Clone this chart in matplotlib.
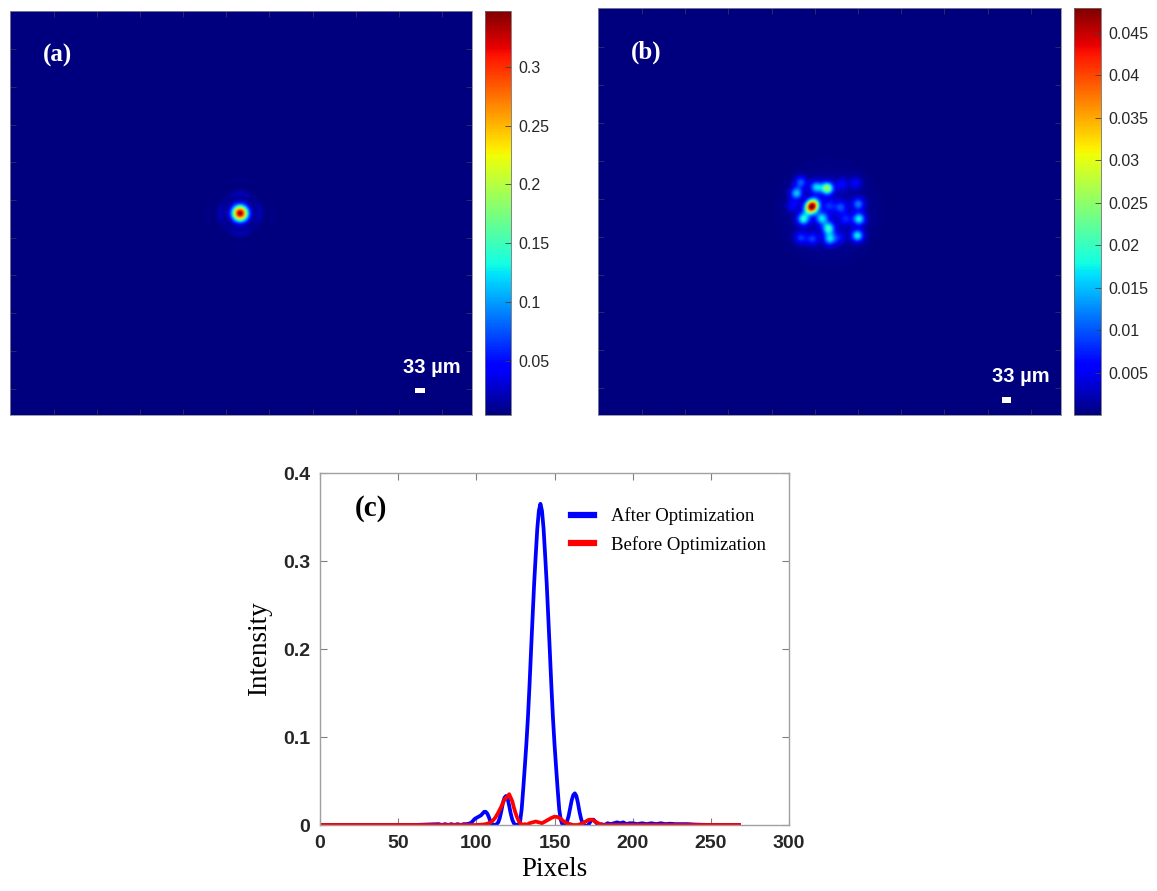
import numpy as np
import matplotlib
matplotlib.use("Agg")
import matplotlib.pyplot as plt
from matplotlib.patches import Rectangle

# ---------------- data ----------------
# (a) focused spot: centre (image px), core and ring amplitudes (intensity), radii/widths (screen px)
spot_a_center = (134, 135)
core_a = (0.345, 5.5)                 # amplitude, sigma
rings_a = [(0.022, 20, 2.6), (0.007, 33, 2.5)]   # amplitude, radius, width

# (b) speckle spots before optimization: x, y (image px), amplitude
spots_b_x = [124.3, 125.8, 122.6, 133.2, 126.9, 117.9, 115.4, 119.4, 130.1, 133.9, 134.7,
             124.6, 117.9, 151.6, 150.7, 151.2, 141.0, 134.3, 143.9, 141.8, 149.7, 140.1, 113.0]
spots_b_y = [131.3, 128.8, 133.6, 119.2, 118.5, 115.2, 122.5, 139.4, 139.0, 145.6, 152.6,
             152.6, 151.9, 139.4, 150.4, 129.6, 131.7, 130.7, 139.4, 116.4, 115.7, 151.8, 130.7]
spots_b_amp = [0.040, 0.012, 0.010, 0.025, 0.015, 0.010, 0.015, 0.018, 0.015, 0.018, 0.015,
               0.008, 0.008, 0.017, 0.017, 0.011, 0.008, 0.006, 0.006, 0.005, 0.005, 0.005, 0.005]
spot_b_sigma = 4.1                    # screen px

# (c) line profiles
blue_x = [0, 60, 76, 78, 80, 82, 84, 86, 88, 90, 92, 94, 96, 97, 98, 99, 100, 101, 102, 103,
          104, 105, 106, 107, 108, 109, 110, 111, 112, 113, 114, 115, 116, 117, 118, 119, 120,
          121, 122, 123, 124, 125, 126, 127, 128, 129, 130, 131, 132, 133, 134, 135, 136, 137,
          138, 139, 140, 141, 142, 143, 144, 145, 146, 147, 148, 149, 150, 151, 152, 153, 154,
          155, 156, 157, 158, 159, 160, 161, 162, 163, 164, 165, 166, 167, 168, 169, 170, 171,
          172, 173, 174, 175, 176, 177, 178, 180, 182, 184, 186, 188, 190, 192, 194, 196, 198,
          200, 203, 206, 209, 212, 215, 218, 221, 224, 227, 230, 235, 240, 250, 268]
blue_y = [0, 0, 0.001, 0, 0.001, 0, 0.001, 0, 0.001, 0, 0.001, 0.001, 0.002, 0.003, 0.005,
          0.007, 0.008, 0.009, 0.010, 0.011, 0.013, 0.015, 0.015, 0.013, 0.009, 0.004, 0.001,
          0.0, 0.0, 0.001, 0.003, 0.008, 0.016, 0.025, 0.031, 0.033, 0.030, 0.022, 0.013, 0.006,
          0.002, 0.0, 0.0, 0.0, 0.004, 0.018, 0.041, 0.066, 0.092, 0.122, 0.158, 0.198, 0.237,
          0.275, 0.307, 0.337, 0.357, 0.365, 0.357, 0.337, 0.307, 0.275, 0.237, 0.198, 0.158,
          0.122, 0.092, 0.066, 0.041, 0.018, 0.006, 0.001, 0.0, 0.001, 0.004, 0.010, 0.019,
          0.028, 0.034, 0.036, 0.033, 0.025, 0.015, 0.007, 0.002, 0.0, -0.001, -0.001, 0.001,
          0.004, 0.006, 0.006, 0.004, 0.002, 0.0, 0.001, 0.0, 0.002, 0.001, 0.002, 0.003, 0.002,
          0.003, 0.001, 0.002, 0.002, 0.001, 0.002, 0.001, 0.002, 0.001, 0.002, 0.001, 0.0015,
          0.001, 0.001, 0.001, 0.0005, 0.0, 0.0]
red_x = [0, 100, 104, 106, 108, 110, 112, 114, 116, 117, 118, 119, 120, 121, 122, 123, 124,
         125, 126, 127, 128, 129, 130, 131, 132, 134, 136, 138, 140, 142, 144, 146, 148, 150,
         152, 154, 156, 158, 160, 162, 165, 168, 170, 172, 174, 176, 178, 180, 268]
red_y = [0, 0, 0.0005, 0.001, 0.002, 0.004, 0.008, 0.014, 0.021, 0.025, 0.029, 0.031, 0.032,
         0.035, 0.031, 0.027, 0.020, 0.014, 0.009, 0.005, 0.002, 0.001, 0.0, 0.001, 0.0, 0.002,
         0.003, 0.004, 0.003, 0.002, 0.004, 0.006, 0.008, 0.0095, 0.009, 0.007, 0.004, 0.002,
         0.001, 0.0, 0.0, 0.002, 0.004, 0.006, 0.006, 0.004, 0.002, 0.0, 0.0]

cbar_a_ticks = [0.05, 0.1, 0.15, 0.2, 0.25, 0.3]
cbar_b_ticks = [0.005, 0.01, 0.015, 0.02, 0.025, 0.03, 0.035, 0.04, 0.045]

# ---------------- build images ----------------
N = 268
W_PX, H_PX = 462, 404          # image axes size on screen, to keep spots round
yy, xx = np.mgrid[1:N + 1, 1:N + 1].astype(float)
sx, sy = W_PX / N, H_PX / N

dx = (xx - spot_a_center[0]) * sx
dy = (yy - spot_a_center[1]) * sy
r = np.hypot(dx, dy)
theta = np.arctan2(dy, dx)
img_a = core_a[0] * np.exp(-r**2 / (2 * core_a[1]**2))
for amp, rad, wid in rings_a:
    img_a += amp * (0.45 + 0.55 * np.cos(2 * theta)**2) * np.exp(-(r - rad)**2 / (2 * wid**2))

img_b = np.zeros_like(xx)
for x0, y0, a in zip(spots_b_x, spots_b_y, spots_b_amp):
    d2 = ((xx - x0) * sx)**2 + ((yy - y0) * sy)**2
    img_b += a * np.exp(-d2 / (2 * spot_b_sigma**2))
d2 = ((xx - 134) * sx)**2 + ((yy - 135) * sy)**2
img_b += 0.0025 * np.exp(-d2 / (2 * 24**2))

# ---------------- figure ----------------
fig = plt.figure(figsize=(11.57, 8.91), dpi=100)
FW, FH = 1157, 891


def ax_px(l, t, r_, b):
    return fig.add_axes([l / FW, 1 - b / FH, (r_ - l) / FW, (b - t) / FH])


def image_panel(ax, cax, img, vmin, vmax, ticks, label, bar_txt, bar_rect):
    im = ax.imshow(img, cmap="jet", vmin=vmin, vmax=vmax, aspect="auto",
                   interpolation="bicubic")
    ax.set_xticks(np.arange(25, N, 25))
    ax.set_yticks(np.arange(25, N, 25))
    ax.tick_params(direction="in", length=4, color="#303060", labelleft=False,
                   labelbottom=False, top=True, right=True, width=0.6)
    for s in ax.spines.values():
        s.set_color("#8a8a9a")
        s.set_linewidth(0.6)
    ax.text(0.072, 0.89, label, transform=ax.transAxes, color="white",
            fontsize=18, fontweight="bold", family="Liberation Serif", va="center")
    ax.text(bar_txt[0], bar_txt[1], "33 µm", transform=ax.transAxes, color="white",
            fontsize=14.5, fontweight="bold", family="Liberation Sans", va="baseline")
    ax.add_patch(Rectangle(bar_rect[:2], bar_rect[2], bar_rect[3], transform=ax.transAxes,
                           color="white", lw=0))
    cb = fig.colorbar(im, cax=cax)
    cb.set_ticks(ticks)
    cb.set_ticklabels([f"{t:g}" for t in ticks])
    cax.tick_params(direction="in", length=4, width=0.6, color="#404040",
                    labelsize=11.5, labelcolor="#262626", pad=5)
    for lab in cax.get_yticklabels():
        lab.set_family("Liberation Sans")
    cb.outline.set_edgecolor("#707070")
    cb.outline.set_linewidth(0.6)


ax_a = ax_px(10, 10.7, 472, 415)
cax_a = ax_px(485, 10.7, 511, 415)
image_panel(ax_a, cax_a, img_a, 0.0037, 0.348, cbar_a_ticks, "(a)",
            (0.851, 0.105), (0.877, 0.055, 0.022, 0.013))

ax_b = ax_px(598, 8, 1061, 415)
cax_b = ax_px(1074, 8, 1101, 415)
image_panel(ax_b, cax_b, img_b, 0.0, 0.0479, cbar_b_ticks, "(b)",
            (0.851, 0.08), (0.873, 0.03, 0.018, 0.013))

# (c) profile plot
ax_c = ax_px(320, 473, 789, 825)
ax_c.plot(blue_x, blue_y, color="#0000ff", lw=2.7, label="After Optimization")
ax_c.plot(red_x, red_y, color="#ff0000", lw=2.7, label="Before Optimization")
ax_c.set_xlim(0, 300)
ax_c.set_ylim(0, 0.4)
ax_c.set_xticks([0, 50, 100, 150, 200, 250, 300])
ax_c.set_yticks([0, 0.1, 0.2, 0.3, 0.4])
ax_c.set_yticklabels(["0", "0.1", "0.2", "0.3", "0.4"])
ax_c.tick_params(direction="in", length=5, width=0.8, color="#808080", top=True,
                 right=True, labelsize=14, labelcolor="#262626", pad=7)
for lab in ax_c.get_xticklabels() + ax_c.get_yticklabels():
    lab.set_fontweight("bold")
    lab.set_family("Liberation Sans")
for s in ax_c.spines.values():
    s.set_color("#a0a0a0")
    s.set_linewidth(1.0)
ax_c.set_xlabel("Pixels", family="Liberation Serif", fontsize=19.5, labelpad=4)
ax_c.set_ylabel("Intensity", family="Liberation Serif", fontsize=19.5, labelpad=8)
ax_c.text(0.075, 0.9, "(c)", transform=ax_c.transAxes, fontsize=21, fontweight="bold",
          family="Liberation Serif", va="center")
leg = ax_c.legend(loc="upper left", bbox_to_anchor=(0.50, 0.95), frameon=False,
                  handlelength=1.2, handletextpad=0.9, labelspacing=0.55,
                  prop={"family": "Liberation Serif", "size": 13.5})
for h in leg.get_lines():
    h.set_linewidth(4.5)

fig.savefig("out.png", dpi=100)
